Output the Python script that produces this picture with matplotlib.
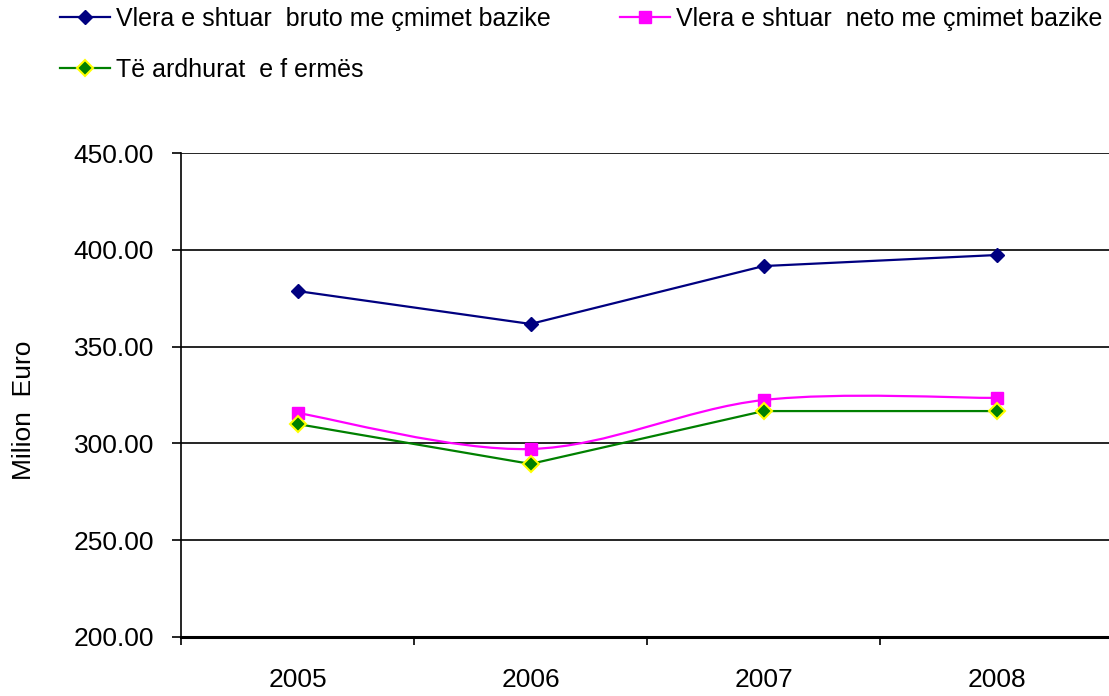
import matplotlib
matplotlib.use("Agg")
import matplotlib.pyplot as plt
from matplotlib.path import Path
from matplotlib.patches import PathPatch
from matplotlib.lines import Line2D
import numpy as np

plt.rcParams['font.family'] = ['Liberation Sans', 'DejaVu Sans']

years = ['2005', '2006', '2007', '2008']
bruto = [378.7, 361.7, 391.6, 397.3]
neto = [315.7, 297.1, 322.4, 323.5]
ardhurat = [310.0, 289.4, 316.7, 316.7]
labels = ['Vlera e shtuar  bruto me çmimet bazike',
          'Vlera e shtuar  neto me çmimet bazike',
          'Të ardhurat  e f ermës']

fig = plt.figure(figsize=(11.09, 6.96), dpi=100)
W, H = 1109, 696
x0, x1, ytop, ybot = 181, 1113, 153, 637
ax = fig.add_axes([x0 / W, 1 - ybot / H, (x1 - x0) / W, (ybot - ytop) / H])

xs = np.arange(len(years))
ax.set_xlim(-0.5, len(years) - 0.5)
ax.set_ylim(200, 450)
ax.set_yticks(np.arange(200, 451, 50))
ax.set_yticklabels([f"{v:.2f}" for v in np.arange(200, 451, 50)])
ax.set_xticks(xs)
ax.set_xticklabels(years)
ax.set_xticks(np.arange(-0.5, len(years), 1.0), minor=True)
ax.tick_params(axis='x', which='major', length=0, labelsize=19, pad=22)
ax.tick_params(axis='x', which='minor', length=6, width=1.2, direction='out')
ax.tick_params(axis='y', labelsize=19, length=6.5, width=1.2, pad=13)
ax.grid(axis='y', color='black', linewidth=1.2)
ax.set_axisbelow(True)
for s in ['top', 'right']:
    ax.spines[s].set_visible(False)
ax.spines['left'].set_linewidth(1.2)
ax.spines['bottom'].set_linewidth(2.2)
ax.set_ylabel('Milion  Euro', fontsize=19)
ax.yaxis.set_label_coords((36 - x0) / (x1 - x0), (ybot - 410) / (ybot - ytop))

# bruto series
l1, = ax.plot(xs, bruto, color='#000080', linewidth=1.6, marker='D', markersize=7.5,
              markerfacecolor='#000080', markeredgecolor='#000080', zorder=4)

# neto: smoothed curve (Catmull-Rom style like Excel)
pts = np.column_stack([xs, neto]).astype(float)
verts = [tuple(pts[0])]
codes = [Path.MOVETO]
t = 1 / 6
for i in range(len(pts) - 1):
    p0 = pts[i - 1] if i > 0 else pts[i]
    p1 = pts[i]
    p2 = pts[i + 1]
    p3 = pts[i + 2] if i + 2 < len(pts) else pts[i + 1]
    c1 = p1 + (p2 - p0) * t
    c2 = p2 - (p3 - p1) * t
    verts += [tuple(c1), tuple(c2), tuple(p2)]
    codes += [Path.CURVE4] * 3
ax.add_patch(PathPatch(Path(verts, codes), facecolor='none', edgecolor='#FF00FF',
                       linewidth=1.6, zorder=3))
ax.plot(xs, neto, linestyle='none', marker='s', markersize=9,
        markerfacecolor='#FF00FF', markeredgecolor='#FF00FF', zorder=4)
l2 = Line2D([], [], color='#FF00FF', linewidth=1.6, marker='s', markersize=9,
            markerfacecolor='#FF00FF', markeredgecolor='#FF00FF')

l3, = ax.plot(xs, ardhurat, color='#008000', linewidth=1.6, marker='D', markersize=8.5,
              markerfacecolor='#008000', markeredgecolor='#FFFF00', markeredgewidth=1.5,
              zorder=5)

fs = 18
em = fs * 100 / 72
common = dict(loc='upper left', frameon=False, fontsize=fs,
              handlelength=50 / em, handletextpad=6 / em,
              labelspacing=(52 - em) / em, borderaxespad=0, borderpad=0)
fig.legend([l1, l3], [labels[0], labels[2]],
           bbox_to_anchor=(60 / W, 1 - 7 / H), **common)
fig.legend([l2], [labels[1]],
           bbox_to_anchor=(620 / W, 1 - 7 / H), **common)

fig.savefig('out.png', dpi=100)
